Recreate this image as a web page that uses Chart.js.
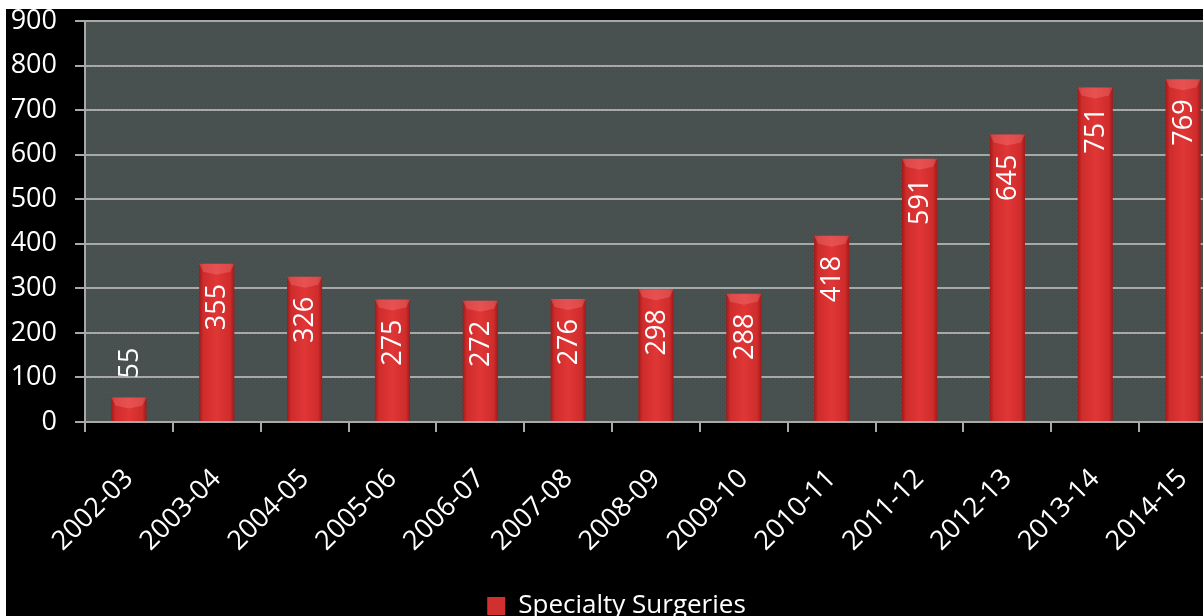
<!DOCTYPE html>
<html>
<head>
<meta charset="utf-8">
<script src="https://cdn.jsdelivr.net/npm/chart.js@4/dist/chart.umd.min.js"></script>
<style>
  html, body { margin: 0; padding: 0; background: #ffffff; overflow: hidden; width: 1203px; height: 616px; }
  #wrap { position: absolute; left: 6px; top: 9px; width: 1221px; height: 620px; background: #000000; }
</style>
</head>
<body>
<div id="wrap"><canvas id="surgChart" width="1221" height="620"></canvas></div>
<script>
const years = ['2002-03', '2003-04', '2004-05', '2005-06', '2006-07', '2007-08', '2008-09',
    '2009-10', '2010-11', '2011-12', '2012-13', '2013-14', '2014-15'];
const surgeries = [55, 355, 326, 275, 272, 276, 298, 288, 418, 591, 645, 751, 769];
const yTicks = [0, 100, 200, 300, 400, 500, 600, 700, 800, 900];

const FONT = "'Open Sans', 'DejaVu Sans', sans-serif";

// small dotted texture for the plot panel
function panelPattern(ctx) {
    const c = document.createElement('canvas');
    c.width = 4; c.height = 4;
    const p = c.getContext('2d');
    p.fillStyle = '#4a5151';
    p.fillRect(0, 0, 4, 4);
    p.fillStyle = '#414848';
    p.fillRect(0, 0, 1, 1);
    p.fillRect(2, 2, 1, 1);
    return ctx.createPattern(c, 'repeat');
}

const plotBg = {
    id: 'plotBg',
    beforeDraw(chart) {
        const { ctx, chartArea: a } = chart;
        ctx.save();
        ctx.fillStyle = panelPattern(ctx);
        ctx.fillRect(a.left, a.top, a.right - a.left, a.bottom - a.top);
        ctx.restore();
    }
};

// bevelled top + vertical value labels
const barLabels = {
    id: 'barLabels',
    afterDatasetsDraw(chart) {
        const ctx = chart.ctx;
        const meta = chart.getDatasetMeta(0);
        ctx.save();
        meta.data.forEach((bar, i) => {
            const l = bar.x - bar.width / 2, r = bar.x + bar.width / 2;
            const cap = Math.min(8, (bar.base - bar.y) / 2);
            ctx.fillStyle = 'rgba(255,150,150,0.28)';
            ctx.beginPath();
            ctx.moveTo(l, bar.y);
            ctx.lineTo(r, bar.y);
            ctx.lineTo(r - 4, bar.y + cap);
            ctx.lineTo(bar.x, bar.y + cap + 3);
            ctx.lineTo(l + 4, bar.y + cap);
            ctx.closePath();
            ctx.fill();
        });
        ctx.font = '27px ' + FONT;
        ctx.fillStyle = '#ffffff';
        ctx.textBaseline = 'middle';
        meta.data.forEach((bar, i) => {
            const txt = String(surgeries[i]);
            const w = ctx.measureText(txt).width;
            const h = bar.base - bar.y;
            ctx.save();
            ctx.translate(bar.x, bar.y);
            ctx.rotate(-Math.PI / 2);
            if (h > w + 40) {
                ctx.textAlign = 'right';
                ctx.fillText(txt, -20, 1);
            } else {
                ctx.textAlign = 'left';
                ctx.fillText(txt, 19, 1);
            }
            ctx.restore();
        });
        ctx.restore();
    }
};

function barFill(context) {
    const chart = context.chart;
    const xs = chart.scales.x;
    if (!xs || context.dataIndex == null) return '#d22f2f';
    const cx = xs.getPixelForValue(context.dataIndex);
    const half = (xs.width / years.length) * 0.4 / 2;
    const g = chart.ctx.createLinearGradient(cx - half, 0, cx + half, 0);
    g.addColorStop(0, '#a11a1a');
    g.addColorStop(0.12, '#cf2c2c');
    g.addColorStop(0.5, '#e03636');
    g.addColorStop(0.88, '#cf2c2c');
    g.addColorStop(1, '#a11a1a');
    return g;
}

const ctx = document.getElementById('surgChart');

new Chart(ctx, {
    type: 'bar',
    data: {
        labels: years,
        datasets: [{
            label: 'Specialty Surgeries',
            data: surgeries,
            backgroundColor: barFill,
            borderWidth: 0,
            categoryPercentage: 1,
            barPercentage: 0.4
        }]
    },
    options: {
        responsive: false,
        animation: false,
        layout: { padding: { top: 12, right: 0, bottom: 0, left: 0 } },
        scales: {
            x: {
                grid: {
                    display: true,
                    drawOnChartArea: false,
                    drawTicks: true,
                    tickLength: 10,
                    tickColor: '#a8a8a8',
                    lineWidth: 2,
                    offset: true
                },
                border: { color: '#a8a8a8', width: 2 },
                ticks: {
                    color: '#ffffff',
                    font: { family: FONT, size: 27 },
                    minRotation: 45,
                    maxRotation: 45,
                    padding: 31
                },
                afterFit(scale) {
                    scale.height = 161;
                    scale.paddingLeft = 0;
                    scale.paddingRight = 0;
                }
            },
            y: {
                min: 0,
                max: 900,
                afterBuildTicks(scale) {
                    scale.ticks = yTicks.map(v => ({ value: v }));
                },
                grid: {
                    color: '#a8a8a8',
                    lineWidth: 2,
                    tickLength: 10,
                    tickColor: '#a8a8a8'
                },
                border: { color: '#a8a8a8', width: 2 },
                ticks: {
                    color: '#ffffff',
                    font: { family: FONT, size: 27 },
                    padding: 18
                },
                afterFit(scale) {
                    scale.width = 79;
                    scale.paddingTop = 0;
                    scale.paddingBottom = 0;
                }
            }
        },
        plugins: {
            legend: {
                position: 'bottom',
                labels: {
                    color: '#ffffff',
                    font: { family: FONT, size: 26 },
                    boxWidth: 18,
                    boxHeight: 18,
                    padding: 10,
                    generateLabels() {
                        return [{
                            text: 'Specialty Surgeries',
                            fillStyle: '#d22f2f',
                            strokeStyle: '#d22f2f',
                            fontColor: '#ffffff',
                            lineWidth: 0
                        }];
                    }
                }
            },
            tooltip: { enabled: false }
        }
    },
    plugins: [plotBg, barLabels]
});
</script>
</body>
</html>
